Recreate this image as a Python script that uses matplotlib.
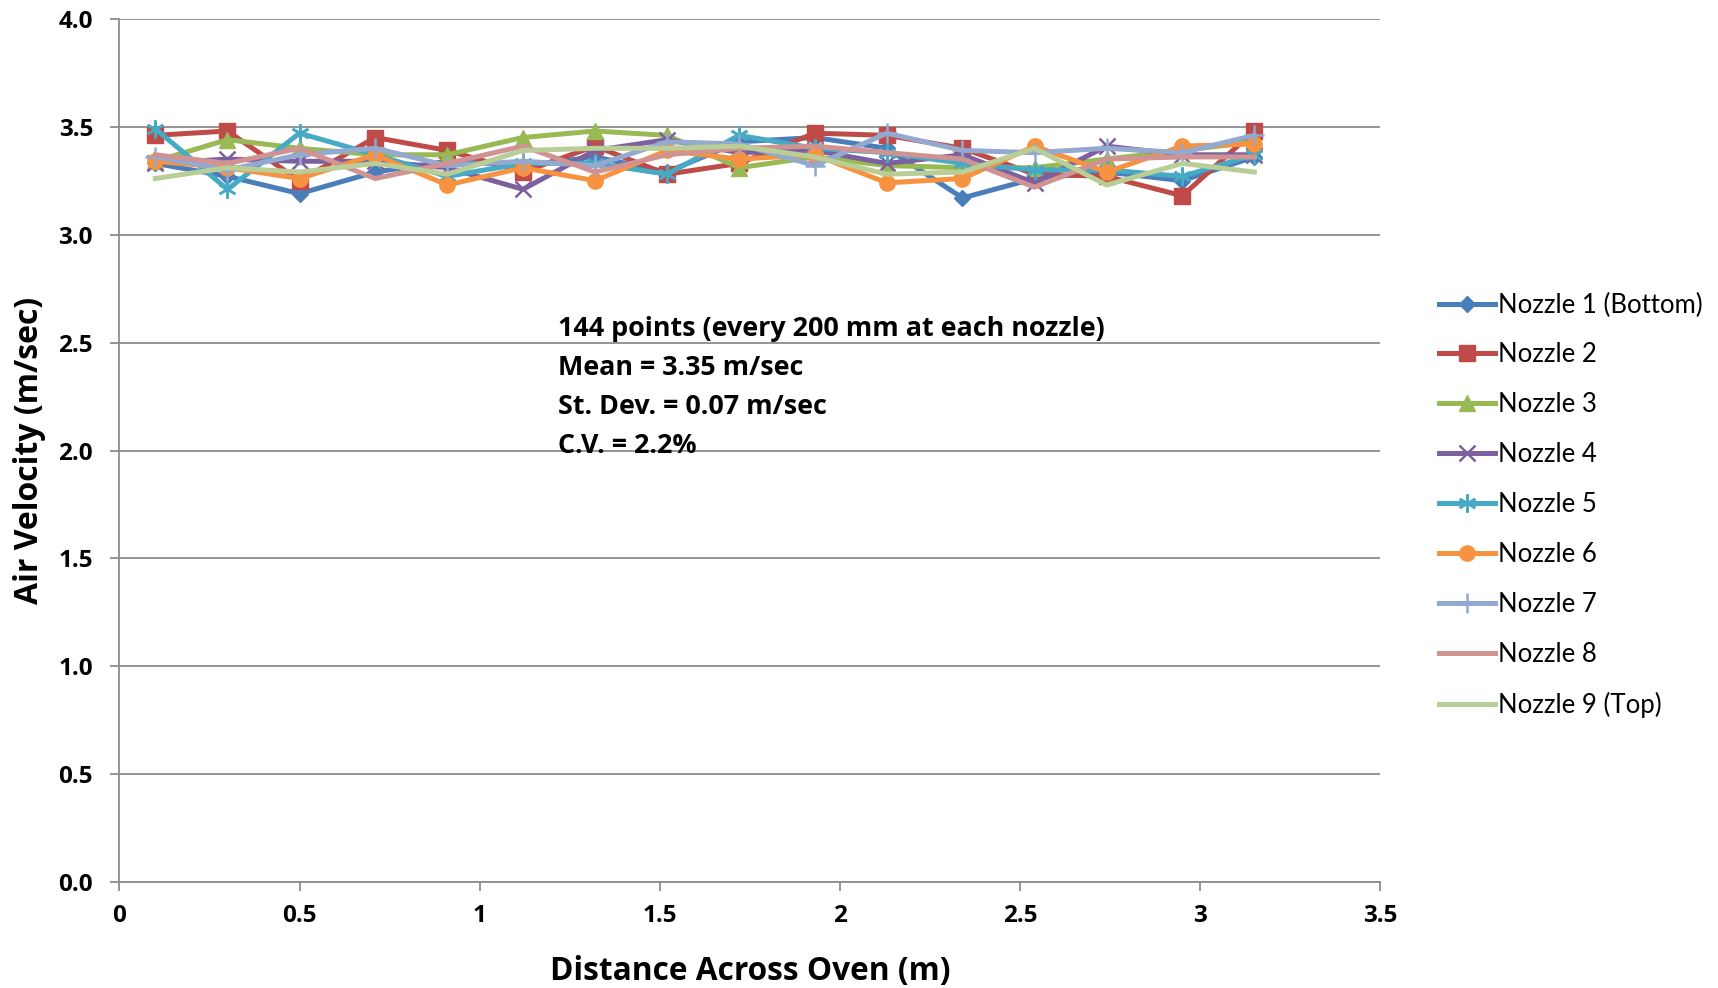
import numpy as np
import matplotlib.pyplot as plt
from matplotlib.patches import Rectangle

# positions across the oven (m)
distance = [0.10, 0.30, 0.50, 0.71, 0.91, 1.12, 1.32, 1.52,
            1.72, 1.93, 2.13, 2.34, 2.54, 2.74, 2.95, 3.15]

nozzle_1 = [3.33, 3.27, 3.19, 3.29, 3.34, 3.32, 3.36, 3.29,
            3.43, 3.45, 3.40, 3.17, 3.26, 3.29, 3.25, 3.36]
nozzle_2 = [3.46, 3.48, 3.25, 3.45, 3.39, 3.29, 3.41, 3.28,
            3.33, 3.47, 3.46, 3.40, 3.28, 3.27, 3.18, 3.48]
nozzle_3 = [3.34, 3.44, 3.40, 3.37, 3.37, 3.45, 3.48, 3.46,
            3.31, 3.36, 3.32, 3.31, 3.31, 3.35, 3.39, 3.43]
nozzle_4 = [3.33, 3.35, 3.34, 3.34, 3.31, 3.21, 3.39, 3.44,
            3.38, 3.39, 3.33, 3.37, 3.24, 3.41, 3.37, 3.37]
nozzle_5 = [3.49, 3.21, 3.47, 3.37, 3.27, 3.33, 3.33, 3.28,
            3.46, 3.40, 3.38, 3.33, 3.30, 3.30, 3.27, 3.37]
nozzle_6 = [3.34, 3.31, 3.26, 3.37, 3.23, 3.31, 3.25, 3.39,
            3.35, 3.37, 3.24, 3.26, 3.41, 3.29, 3.41, 3.42]
nozzle_7 = [3.36, 3.30, 3.37, 3.40, 3.32, 3.34, 3.32, 3.43,
            3.42, 3.32, 3.47, 3.39, 3.38, 3.40, 3.38, 3.46]
nozzle_8 = [3.37, 3.33, 3.40, 3.26, 3.33, 3.41, 3.29, 3.37,
            3.40, 3.41, 3.38, 3.35, 3.22, 3.35, 3.36, 3.36]
nozzle_9 = [3.26, 3.31, 3.29, 3.33, 3.28, 3.39, 3.40, 3.40,
            3.41, 3.36, 3.28, 3.29, 3.40, 3.23, 3.33, 3.29]

labels = ["Nozzle 1 (Bottom)", "Nozzle 2", "Nozzle 3", "Nozzle 4", "Nozzle 5",
          "Nozzle 6", "Nozzle 7", "Nozzle 8", "Nozzle 9 (Top)"]
series = [nozzle_1, nozzle_2, nozzle_3, nozzle_4, nozzle_5,
          nozzle_6, nozzle_7, nozzle_8, nozzle_9]

xtick_values = [0, 0.5, 1, 1.5, 2, 2.5, 3, 3.5]
xtick_labels = ["0", "0.5", "1", "1.5", "2", "2.5", "3", "3.5"]
ytick_values = [0.0, 0.5, 1.0, 1.5, 2.0, 2.5, 3.0, 3.5, 4.0]
ytick_labels = ["0.0", "0.5", "1.0", "1.5", "2.0", "2.5", "3.0", "3.5", "4.0"]

colors = ["#4A7EBB", "#BE4B48", "#98B954", "#7D60A0", "#46AAC5",
          "#F69240", "#93A9CF", "#D19392", "#B9CD96"]
markers = ["D", "s", "^", "x", (6, 2, 0), "o", "+", None, None]
msizes = [8, 11, 11, 11, 13, 11, 14, 0, 0]

stats_text = ("144 points (every 200 mm at each nozzle)\n"
              "Mean = 3.35 m/sec\n"
              "St. Dev. = 0.07 m/sec\n"
              "C.V. = 2.2%")

BOLD_FONT = "Open Sans"
LEGEND_FONT = "Lato"

fig = plt.figure(figsize=(17.18, 9.88), dpi=100)
ax = fig.add_axes([0.0695, 0.107, 0.734, 0.874])

for y, lab, c, m, ms in zip(series, labels, colors, markers, msizes):
    ax.plot(distance, y, color=c, lw=3.6, marker=m, markersize=ms,
            markeredgewidth=1.8 if m in ("x", "+", (6, 2, 0)) else 1,
            markeredgecolor=c, label=lab, zorder=3)

ax.set_xlim(0, 3.5)
ax.set_ylim(0, 4.0)

ax.grid(axis="y", color="#8c8c8c", lw=1.3, zorder=0)
for side in ("top", "right"):
    ax.spines[side].set_visible(False)
for side in ("left", "bottom"):
    ax.spines[side].set_color("#8c8c8c")
    ax.spines[side].set_linewidth(1.3)
ax.tick_params(direction="out", length=6.5, width=1.3, color="#8c8c8c",
               labelsize=17.5)
ax.tick_params(axis="x", pad=9)
ax.tick_params(axis="y", pad=12.5)

tick_font = {"family": BOLD_FONT, "weight": "bold", "size": 17.5}
ax.set_xticks(xtick_values)
ax.set_xticklabels(xtick_labels, fontdict=tick_font)
ax.set_yticks(ytick_values)
ax.set_yticklabels(ytick_labels, fontdict=tick_font)

ax.set_xlabel("Distance Across Oven (m)", fontsize=22.8, fontweight="bold",
              family=BOLD_FONT, va="center")
ax.set_ylabel("Air Velocity (m/sec)", fontsize=23, fontweight="bold",
              family=BOLD_FONT, va="center")
ax.xaxis.set_label_coords(0.5, -0.1028)
ax.yaxis.set_label_coords(-0.0712, 0.5)

# white box behind the summary text
ax.add_patch(Rectangle((1.16, 1.93), 1.64, 0.76, facecolor="white",
                       edgecolor="none", zorder=1))
ax.text(1.216, 2.625, stats_text, fontsize=19.4, fontweight="bold",
        family=BOLD_FONT, va="top", ha="left", linespacing=1.66, zorder=2)

leg = ax.legend(loc="upper left", bbox_to_anchor=(0.8374, 0.704),
                bbox_transform=fig.transFigure, frameon=False,
                handlelength=2.2, handletextpad=0.1, labelspacing=0.97,
                borderpad=0, borderaxespad=0,
                prop={"family": LEGEND_FONT, "size": 18.5})

fig.savefig("out.png", dpi=100, facecolor="white")
